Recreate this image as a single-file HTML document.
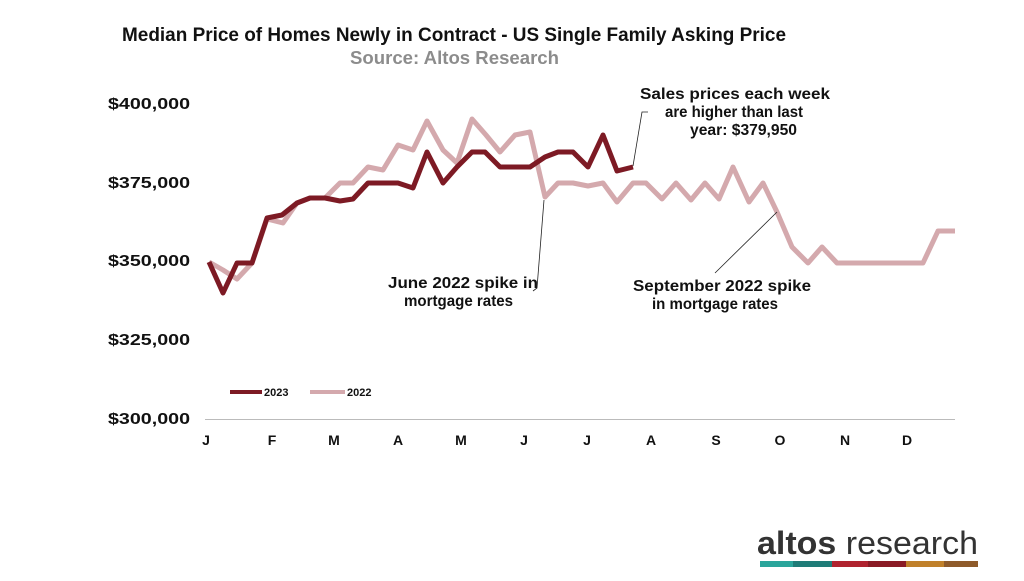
<!DOCTYPE html>
<html><head><meta charset="utf-8"><style>
body{margin:0;background:#fff;width:1024px;height:576px;overflow:hidden;font-family:"Liberation Sans",sans-serif}
</style></head><body>
<svg width="1024" height="576" viewBox="0 0 1024 576" xmlns="http://www.w3.org/2000/svg" font-family="Liberation Sans, sans-serif">
<text x="122" y="41" font-size="19" font-weight="bold" fill="#111" textLength="664" lengthAdjust="spacingAndGlyphs">Median Price of Homes Newly in Contract - US Single Family Asking Price</text>
<text x="350" y="64" font-size="18" font-weight="bold" fill="#8c8c8c" textLength="209" lengthAdjust="spacingAndGlyphs">Source: Altos Research</text>
<g font-size="16" font-weight="bold" fill="#111">
<text x="108" y="109" textLength="82" lengthAdjust="spacingAndGlyphs">$400,000</text>
<text x="108" y="188" textLength="82" lengthAdjust="spacingAndGlyphs">$375,000</text>
<text x="108" y="266" textLength="82" lengthAdjust="spacingAndGlyphs">$350,000</text>
<text x="108" y="345" textLength="82" lengthAdjust="spacingAndGlyphs">$325,000</text>
<text x="108" y="424" textLength="82" lengthAdjust="spacingAndGlyphs">$300,000</text>
</g>
<line x1="205" y1="419.5" x2="955" y2="419.5" stroke="#bbb" stroke-width="1"/>
<g font-size="14" font-weight="bold" fill="#111" text-anchor="middle">
<text x="206" y="445">J</text><text x="272" y="445">F</text><text x="334" y="445">M</text><text x="398" y="445">A</text><text x="461" y="445">M</text><text x="524" y="445">J</text><text x="587" y="445">J</text><text x="651" y="445">A</text><text x="716" y="445">S</text><text x="780" y="445">O</text><text x="845" y="445">N</text><text x="907" y="445">D</text>
</g>
<polyline fill="none" stroke="#d4a9ad" stroke-width="5" stroke-linejoin="round" points="209,262 223,270 237,279 252,263 267,219 283,223 297,203 310,198 325,198 340,183 353,183 368,167 383,170 398,145 413,150 427,121 443,150 457,163 472,119 486,135 500,152 515,135 530,132 545,197 558,183 573,183 588,186 603,183 617,202 633,183 646,183 662,199 676,183 691,200 705,183 719,199 733,167 749,202 763,183 777,212 792,247 808,263 822,247 837,263 923,263 938,231 955,231"/>
<polyline fill="none" stroke="#7d1a24" stroke-width="5" stroke-linejoin="round" points="209,262 223,293 237,263 252,263 267,218 282,215 297,203 310,198 325,198 340,201 353,199 368,183 383,183 398,183 413,188 427,152 443,183 457,167 472,152 485,152 500,167 515,167 530,167 545,157 558,152 573,152 588,167 603,135 617,171 633,167"/>
<polyline fill="none" stroke="#222" stroke-width="0.8" points="544,200 537,288 533,291"/>
<polyline fill="none" stroke="#222" stroke-width="0.8" points="633,166 642,112 648,112"/>
<line x1="777" y1="212" x2="715" y2="273" stroke="#222" stroke-width="0.8"/>
<g font-size="15.5" font-weight="bold" fill="#111">
<text x="640" y="99" textLength="190" lengthAdjust="spacingAndGlyphs">Sales prices each week</text>
<text x="665" y="117" textLength="138" lengthAdjust="spacingAndGlyphs">are higher than last</text>
<text x="690" y="135" textLength="107" lengthAdjust="spacingAndGlyphs">year: $379,950</text>
<text x="388" y="288" textLength="150" lengthAdjust="spacingAndGlyphs">June 2022 spike in</text>
<text x="404" y="306" textLength="109" lengthAdjust="spacingAndGlyphs">mortgage rates</text>
<text x="633" y="291" textLength="178" lengthAdjust="spacingAndGlyphs">September 2022 spike</text>
<text x="652" y="309" textLength="126" lengthAdjust="spacingAndGlyphs">in mortgage rates</text>
</g>
<line x1="230" y1="392" x2="262" y2="392" stroke="#7d1a24" stroke-width="4"/>
<text x="264" y="396" font-size="11" font-weight="bold" fill="#111">2023</text>
<line x1="310" y1="392" x2="345" y2="392" stroke="#d4a9ad" stroke-width="4"/>
<text x="347" y="396" font-size="11" font-weight="bold" fill="#111">2022</text>
<text x="757" y="554" font-size="32" fill="#333" textLength="221" lengthAdjust="spacingAndGlyphs"><tspan font-weight="bold">altos</tspan> research</text>
<rect x="760" y="561" width="33" height="6" fill="#2aa59b"/>
<rect x="793" y="561" width="39" height="6" fill="#1f7c78"/>
<rect x="832" y="561" width="36" height="6" fill="#b0232f"/>
<rect x="868" y="561" width="38" height="6" fill="#8a1b25"/>
<rect x="906" y="561" width="38" height="6" fill="#c0802a"/>
<rect x="944" y="561" width="34" height="6" fill="#8e5a2a"/>
</svg>
</body></html>
